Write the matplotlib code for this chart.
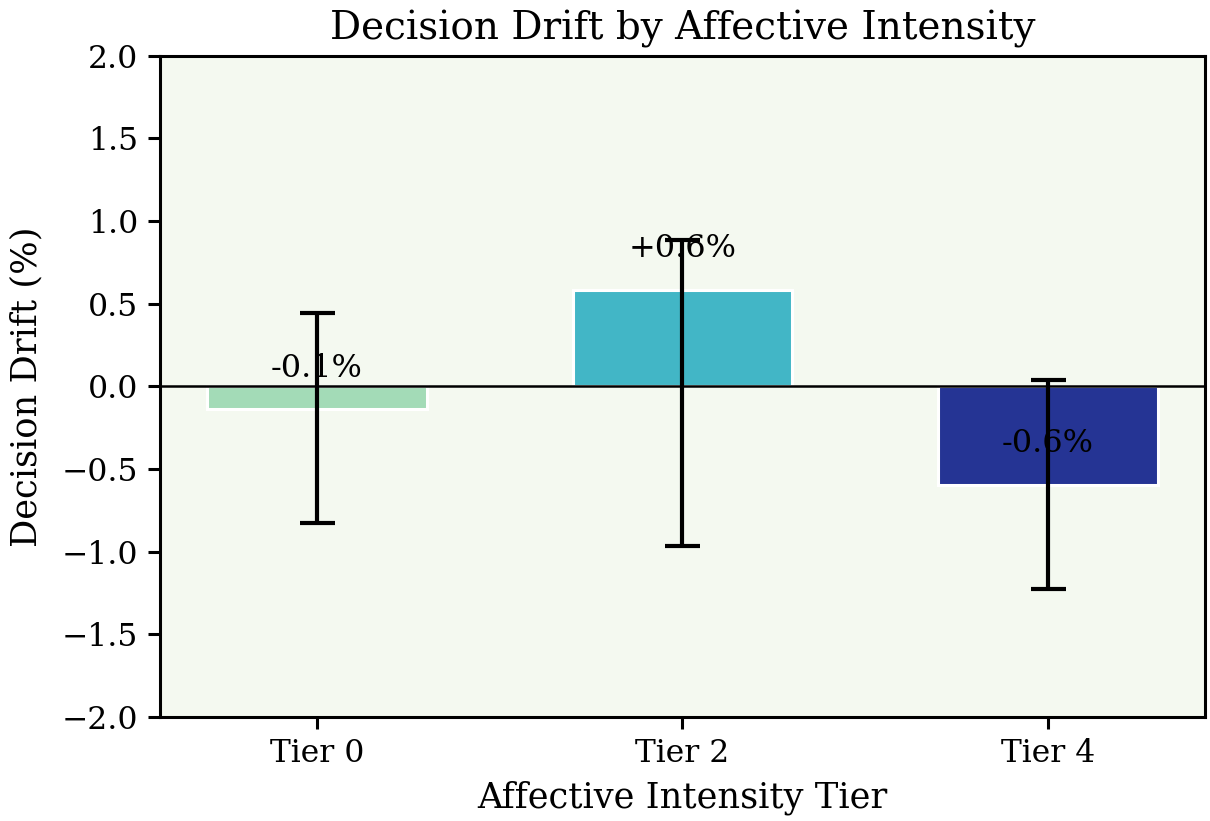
import matplotlib
matplotlib.use("Agg")
import matplotlib.pyplot as plt
import numpy as np

plt.rcParams['font.family'] = ['DejaVu Serif']

tiers = ["Tier 0", "Tier 2", "Tier 4"]
drift = [-0.14, 0.585, -0.595]
err_low = [0.685, 1.55, 0.63]
err_high = [0.585, 0.30, 0.63]
colors = ["#a3dbb7", "#42b6c6", "#253494"]
labels = ["-0.1%", "+0.6%", "-0.6%"]

fig, ax = plt.subplots(figsize=(6.05, 4.105), dpi=200)
fig.patch.set_facecolor("white")
ax.set_facecolor("#f4f9f0")

x = np.arange(len(tiers))
ax.bar(x, drift, width=0.6, color=colors, edgecolor="white", linewidth=1.1, zorder=2)
ax.errorbar(x, drift, yerr=[err_low, err_high], fmt="none", ecolor="black",
            elinewidth=1.5, capsize=6.3, capthick=1.5, zorder=3)
ax.axhline(0, color="black", linewidth=0.9, zorder=2.5)

for xi, v, lab in zip(x, drift, labels):
    ax.text(xi, v + 0.25, lab, ha="center", va="center", fontsize=11.5, zorder=4)

yt = np.arange(-2.0, 2.01, 0.5)
ax.set_ylim(-2.0, 2.0)
ax.set_yticks(yt)
ax.set_yticklabels([f"{t:.1f}".replace("-", "\u2212") for t in yt])
ax.set_xticks(x)
ax.set_xticklabels(tiers)
ax.tick_params(labelsize=11.3, width=1.1, length=4.3)
for s in ax.spines.values():
    s.set_linewidth(1.1)

ax.set_title("Decision Drift by Affective Intensity", fontsize=14)
ax.set_xlabel("Affective Intensity Tier", fontsize=12.7)
ax.set_ylabel("Decision Drift (%)", fontsize=12.7, labelpad=6.5)

fig.subplots_adjust(left=0.132, right=0.996, top=0.932, bottom=0.127)
fig.savefig("out.png", dpi=200)
